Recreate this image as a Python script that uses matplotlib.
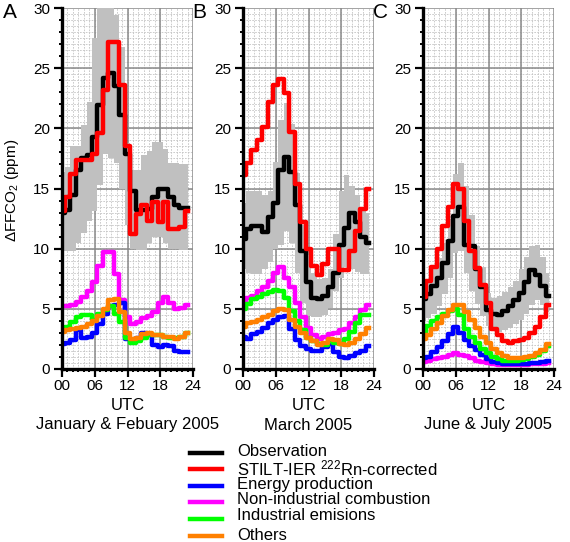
import numpy as np
import matplotlib
matplotlib.use('Agg')
import matplotlib.pyplot as plt
from matplotlib.lines import Line2D

plt.rcParams['font.family'] = ['Liberation Sans', 'DejaVu Sans']
plt.rcParams['mathtext.fontset'] = 'custom'
plt.rcParams['mathtext.rm'] = 'Liberation Sans'
plt.rcParams['mathtext.default'] = 'regular'

hours = np.arange(24)

panel_letters = ['A', 'B', 'C']
panel_titles = ['January & Febuary 2005', 'March 2005', 'June & July 2005']
x_tick_labels = ['00', '06', '12', '18', '24']

series_labels = ['Observation', 'STILT-IER $^{222}$Rn-corrected', 'Energy production',
                 'Non-industrial combustion', 'Industrial emisions', 'Others']
series_colors = ['black', '#ff0000', '#0000ff', '#ff00ff', '#00ff00', '#ff8000']

# panel A - January & February
obs_a = [13.0, 13.2, 14.5, 16.5, 17.5, 17.8, 19.3, 21.9, 24.2, 24.6, 23.5, 21.1,
         17.9, 14.8, 13.2, 13.2, 13.3, 14.3, 15.0, 15.0, 14.3, 13.6, 13.4, 13.4]
rn_a = [13.1, 14.3, 16.2, 17.4, 17.4, 17.4, 17.9, 19.6, 23.2, 27.2, 27.2, 23.6,
        18.5, 11.2, 12.9, 13.6, 12.3, 13.9, 12.2, 13.9, 11.6, 11.6, 11.8, 13.1]
energy_a = [2.1, 2.2, 2.4, 3.2, 2.6, 2.7, 3.0, 3.7, 4.6, 5.2, 5.3, 5.5,
            2.5, 2.4, 2.6, 3.0, 2.8, 2.0, 1.8, 2.0, 1.9, 1.5, 1.4, 1.4]
nonind_a = [5.2, 5.2, 5.3, 5.6, 6.0, 6.5, 7.2, 8.6, 9.7, 9.7, 7.9, 5.7,
            4.3, 3.7, 3.9, 4.2, 4.4, 4.7, 5.5, 6.0, 5.5, 5.0, 5.1, 5.3]
indus_a = [3.4, 3.5, 3.9, 4.3, 4.5, 4.5, 4.1, 4.6, 4.9, 5.2, 4.6, 3.9,
           2.6, 2.2, 2.3, 2.6, 2.8, 2.8, 2.8, 2.7, 2.6, 2.6, 2.7, 3.0]
others_a = [3.1, 3.2, 3.3, 3.4, 3.5, 3.7, 4.0, 4.4, 5.0, 5.7, 5.8, 4.7,
            3.0, 2.5, 2.6, 2.9, 3.0, 2.8, 2.8, 2.7, 2.7, 2.5, 2.7, 3.0]
lo_a = [9.8, 9.8, 9.8, 10.5, 11.3, 12.3, 13.1, 15.3, 17.9, 17.5, 17.1, 15.0,
        12.0, 10.0, 9.9, 9.9, 10.5, 11.0, 11.0, 10.5, 10.0, 10.0, 9.9, 9.9]
hi_a = [16.4, 16.8, 18.5, 18.5, 20.3, 22.2, 27.5, 30.5, 30.5, 30.5, 29.4, 26.8,
        18.8, 16.5, 16.5, 17.8, 18.1, 18.9, 18.9, 18.3, 17.1, 17.1, 17.0, 17.0]

# panel B - March
obs_b = [10.8, 11.6, 11.9, 11.9, 11.4, 12.6, 13.8, 16.5, 17.6, 16.4, 13.6, 9.8,
         7.2, 5.9, 5.8, 6.1, 6.8, 8.0, 10.3, 11.7, 13.0, 12.2, 11.0, 10.5]
rn_b = [16.1, 17.1, 18.2, 19.0, 20.1, 22.2, 23.6, 24.1, 22.9, 19.7, 15.4, 12.2,
        10.0, 8.6, 7.8, 8.7, 10.0, 10.0, 8.2, 8.2, 9.8, 11.5, 13.3, 15.0]
energy_b = [2.7, 2.5, 2.9, 3.1, 3.4, 3.8, 4.1, 4.3, 4.4, 3.3, 2.4, 1.9,
            1.7, 1.5, 1.5, 1.8, 2.1, 1.4, 1.0, 0.9, 1.1, 1.3, 1.5, 1.9]
nonind_b = [5.4, 5.9, 6.1, 6.5, 6.8, 7.3, 8.0, 8.5, 7.6, 6.8, 5.5, 4.3,
            3.4, 2.8, 2.5, 2.7, 2.9, 3.0, 3.2, 3.3, 3.8, 4.3, 4.9, 5.3]
indus_b = [5.0, 5.4, 5.8, 6.0, 6.2, 6.4, 6.6, 6.5, 5.9, 4.8, 4.0, 3.2,
           2.6, 2.3, 2.1, 2.0, 2.3, 2.2, 2.1, 2.5, 3.1, 3.8, 4.5, 4.5]
others_b = [3.5, 3.8, 3.9, 4.1, 4.3, 4.5, 4.8, 5.0, 4.9, 4.1, 3.5, 3.0,
            2.6, 2.3, 2.0, 2.2, 2.5, 2.4, 2.1, 2.0, 2.2, 2.5, 2.9, 3.4]
lo_b = [8.3, 8.0, 7.9, 7.9, 8.3, 8.9, 10.0, 10.3, 11.5, 10.5, 8.0, 5.5,
        4.4, 4.3, 4.3, 4.5, 5.1, 6.5, 7.6, 8.5, 8.3, 8.1, 7.9, 7.9]
hi_b = [13.8, 14.8, 14.8, 14.8, 14.5, 14.8, 17.2, 20.7, 22.1, 20.4, 16.3, 12.0,
        9.5, 8.0, 7.5, 7.6, 8.3, 11.2, 14.8, 16.1, 15.2, 14.5, 13.5, 13.0]

# panel C - June & July
obs_c = [5.8, 6.2, 6.9, 7.6, 8.8, 10.6, 12.7, 13.5, 10.3, 10.2, 8.3, 6.8,
         4.9, 4.6, 4.5, 4.8, 5.2, 5.7, 6.3, 7.2, 8.2, 7.8, 6.9, 6.1]
rn_c = [6.0, 7.3, 8.5, 10.0, 11.9, 13.5, 15.4, 15.0, 12.3, 9.8, 8.4, 7.0,
        5.5, 3.3, 2.8, 2.3, 2.2, 2.3, 2.4, 2.6, 3.0, 3.5, 4.3, 5.3]
energy_c = [0.9, 1.0, 1.4, 1.8, 2.3, 2.9, 3.5, 3.0, 2.4, 1.9, 1.6, 1.2,
            0.8, 0.6, 0.5, 0.45, 0.4, 0.4, 0.4, 0.45, 0.5, 0.5, 0.55, 0.65]
nonind_c = [0.6, 0.7, 0.8, 0.9, 1.0, 1.2, 1.3, 1.2, 1.1, 0.9, 0.7, 0.6,
            0.5, 0.4, 0.35, 0.3, 0.3, 0.3, 0.35, 0.35, 0.4, 0.4, 0.45, 0.5]
indus_c = [3.0, 3.6, 4.0, 4.3, 4.6, 4.8, 5.0, 4.5, 3.3, 2.7, 2.2, 1.7,
           1.3, 1.0, 0.8, 0.7, 0.7, 0.7, 0.75, 0.85, 1.0, 1.2, 1.5, 1.9]
others_c = [2.5, 2.8, 3.3, 3.8, 4.4, 4.9, 5.3, 5.3, 4.7, 4.1, 3.4, 2.7,
            2.2, 1.7, 1.3, 1.05, 0.95, 0.9, 0.95, 1.0, 1.1, 1.3, 1.6, 2.1]
lo_c = [4.0, 4.2, 4.6, 5.2, 6.2, 7.6, 9.6, 9.8, 8.0, 6.5, 5.4, 4.4,
        3.6, 3.2, 3.1, 3.2, 3.4, 3.7, 4.1, 4.6, 5.3, 5.7, 5.3, 4.7]
hi_c = [6.9, 7.5, 8.3, 9.2, 10.5, 12.5, 16.2, 17.1, 15.2, 12.8, 10.2, 8.5,
        6.3, 5.9, 6.1, 6.4, 6.8, 7.3, 8.3, 9.3, 10.2, 10.3, 9.3, 8.0]

panels = [
    (obs_a, rn_a, energy_a, nonind_a, indus_a, others_a, lo_a, hi_a),
    (obs_b, rn_b, energy_b, nonind_b, indus_b, others_b, lo_b, hi_b),
    (obs_c, rn_c, energy_c, nonind_c, indus_c, others_c, lo_c, hi_c),
]

W, H = 570, 542
fig = plt.figure(figsize=(W / 100, H / 100), dpi=100)

ax_left_px = [62, 243, 423]
ax_w_px = 131
ax_top_px, ax_bot_px = 8, 369
letter_x_px = [10, 199, 380]

LW = 3.2
draw_order = [3, 2, 4, 5, 0, 1]  # magenta, blue, green, orange, black, red

for i, data in enumerate(panels):
    x0 = ax_left_px[i]
    ax = fig.add_axes([x0 / W, 1 - ax_bot_px / H, ax_w_px / W, (ax_bot_px - ax_top_px) / H])
    *lines, lo, hi = data

    ax.fill_between(hours, lo, hi, step='mid', color='#c0c0c0', lw=0, zorder=1)
    for k in draw_order:
        ax.plot(hours, lines[k], drawstyle='steps-mid', color=series_colors[k],
                lw=LW, zorder=3 + draw_order.index(k))

    ax.set_xlim(0, 24)
    ax.set_ylim(0, 30)

    # minor dashed grid
    ax.vlines(np.arange(1, 24), 0, 30, colors='#c4c4c4', linestyles=(0, (2, 1.5)), lw=0.6, zorder=0)
    ax.hlines(np.arange(0.5, 30, 0.5), 0, 24, colors='#c4c4c4', linestyles=(0, (2, 1.5)), lw=0.6, zorder=0)
    ax.set_axisbelow(True)
    ax.grid(which='major', color='#8a8a8a', lw=1.1, zorder=0.5)

    ax.set_xticks(np.arange(0, 25, 6))
    ax.set_xticklabels(x_tick_labels)
    ax.set_xticks(np.arange(0, 25, 1), minor=True)
    ax.set_yticks(np.arange(0, 31, 5))
    ax.set_yticks(np.arange(0, 31, 1), minor=True)
    ax.tick_params(which='major', direction='out', length=5.5, width=1.6, labelsize=11, pad=2)
    ax.tick_params(which='minor', direction='out', length=2.5, width=1.4)
    ax.tick_params(axis='y', which='major', pad=3)

    for s in ['top', 'right']:
        ax.spines[s].set_visible(False)
    for s in ['left', 'bottom']:
        ax.spines[s].set_linewidth(2.4)
        ax.spines[s].set_zorder(10)

    cx = (x0 + ax_w_px / 2) / W
    fig.text(cx, 1 - 405 / H, 'UTC', fontsize=12, ha='center', va='center')
    fig.text(cx, 1 - 425 / H, panel_titles[i], fontsize=12, ha='center', va='center')
    fig.text(letter_x_px[i] / W, 1 - 13 / H, panel_letters[i], fontsize=15, ha='center', va='center')

fig.text(12 / W, 1 - 190 / H, r'$\Delta$FFCO$_2$ (ppm)', rotation=90, fontsize=11,
         ha='center', va='center')

# legend
line_rows = [453, 469, 486, 502, 519, 536]
text_rows = [451, 468, 484, 500, 516, 536]
for k in range(6):
    y_line = 1 - line_rows[k] / H
    fig.add_artist(Line2D([190 / W, 222 / W], [y_line, y_line], color=series_colors[k], lw=LW))
    fig.text(237 / W, 1 - text_rows[k] / H, series_labels[k], fontsize=12, ha='left', va='center')

fig.savefig('out.png', dpi=100)
